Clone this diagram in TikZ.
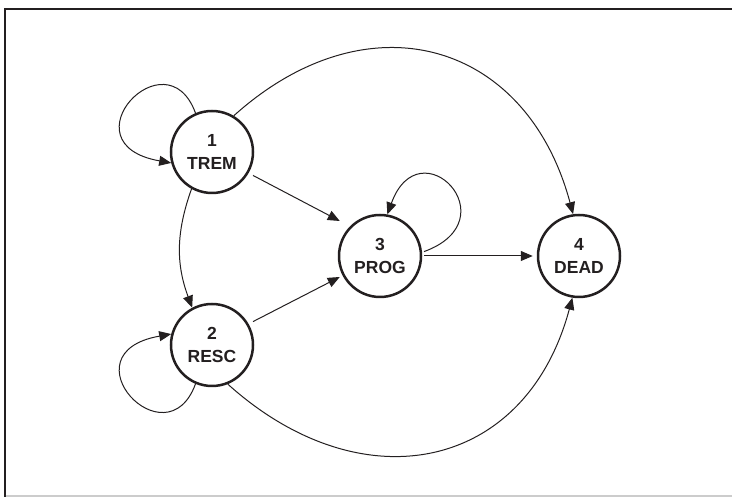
\documentclass[tikz,border=0pt]{standalone}
\usepackage{fontspec}
\setmainfont{Liberation Sans}
\usetikzlibrary{arrows.meta}
\definecolor{ink}{HTML}{231F20}

\begin{document}
\begin{tikzpicture}[
        x=1pt, y=1pt,
        circlenode/.style={circle, draw=ink, line width=2.5pt, minimum size=82pt, inner sep=0pt,
            align=center, font=\fontsize{17.5}{22.5}\selectfont\bfseries, text=ink},
        edgeline/.style={draw=ink, line width=1pt, -{Triangle[length=12pt, width=10pt]}}
    ]
    \useasboundingbox (0,0) rectangle (732,497);
    % frame
    \draw[ink, line width=2pt] (4.5,0) -- (4.5,487.7) -- (732,487.7);
    \draw[black!20, line width=1.5pt] (5.5,1) -- (732,1);
    % states
    \node[circlenode] (n1) at (212,345) {1\\TREM};
    \node[circlenode] (n2) at (212,152) {2\\RESC};
    \node[circlenode] (n3) at (380,241) {3\\PROG};
    \node[circlenode] (n4) at (579,241) {4\\DEAD};
    % self loops
    \draw[edgeline] (n1.113) to[out=110, in=170, out distance=85pt, in distance=110pt] (n1.195);
    \draw[edgeline] (n2.247) to[out=250, in=190, out distance=85pt, in distance=110pt] (n2.165);
    \draw[edgeline, shorten <=2pt] (n3.5) to[out=20, in=70, distance=95pt] (n3.80);
    % transitions
    \draw[edgeline] (n1.241) to[bend right=20] (n2.118);
    \draw[edgeline, shorten <=5pt] (n1.-30) -- ([xshift=2pt, yshift=35pt]n3.west);
    \draw[edgeline, shorten <=5pt] (n2.30) -- ([xshift=2pt, yshift=-21pt]n3.west);
    \draw[edgeline, shorten <=2pt, shorten >=4pt] (n3.east) -- (n4.west);
    \draw[edgeline] (n1.59) to[out=42, in=105, distance=180pt] (n4.98);
    \draw[edgeline] (n2.-68) to[out=-42, in=-105, distance=180pt] (n4.-99);
\end{tikzpicture}
\end{document}
